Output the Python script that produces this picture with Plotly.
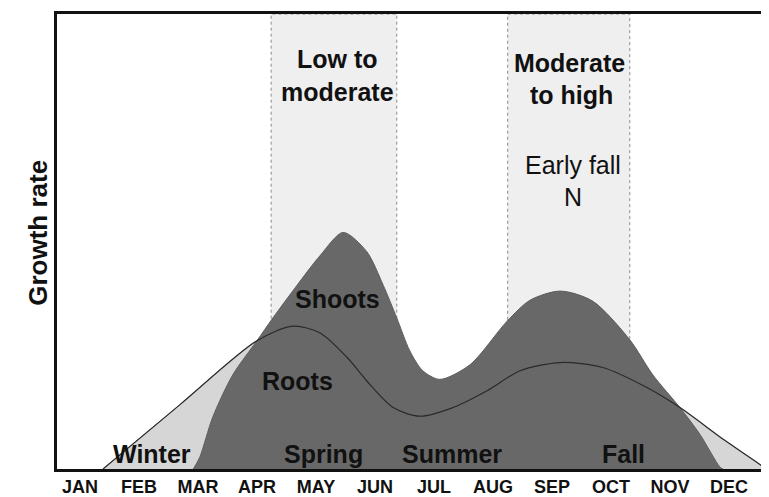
import plotly.graph_objects as go

months = ["JAN", "FEB", "MAR", "APR", "MAY", "JUN", "JUL", "AUG", "SEP", "OCT", "NOV", "DEC"]
month_idx = list(range(12))

# Shoots growth curve (x in month index, JAN=0; y relative growth 0-100)
shoots_x = [1.92, 2.03, 2.25, 2.59, 3.00, 3.27, 3.68, 4.07, 4.46, 4.86, 5.14, 5.37, 5.59, 5.81, 6.10,
            6.61, 7.24, 7.63, 8.14, 8.69, 9.32, 9.71, 10.17, 10.51, 10.85, 10.90]
shoots_y = [0.0, 2.6, 11.4, 20.7, 28.2, 33.2, 40.4, 46.9, 52.0, 47.8, 40.4, 33.2, 26.0, 21.6, 19.7,
            22.9, 32.5, 37.1, 39.1, 36.9, 28.4, 20.7, 13.5, 7.6, 0.4, 0.0]

# Roots growth curve
roots_x = [0.39, 1.69, 3.00, 3.61, 4.07, 4.53, 4.86, 5.31, 5.76, 6.32, 6.90, 7.46, 8.14, 8.86, 9.61,
           10.17, 10.93, 11.64]
roots_y = [0.0, 14.1, 28.2, 31.4, 29.9, 24.5, 19.4, 13.5, 11.6, 13.5, 17.2, 21.6, 23.4, 22.3, 17.9,
           13.5, 6.3, 0.0]

# Fertilization windows (month index ranges)
bands = [(3.24, 5.37), (7.25, 9.32)]

# Text labels
band_labels = [("Low to", 4.37, 90.2), ("moderate", 4.37, 82.8),
               ("Moderate", 8.29, 89.3), ("to high", 8.33, 82.3)]
plain_labels = [("Early fall", 8.36, 66.8), ("N", 8.36, 59.8)]
curve_labels = [("Shoots", 4.36, 37.4), ("Roots", 3.68, 19.4)]
season_labels = [("Winter", 1.22, 3.2), ("Spring", 4.12, 3.2), ("Summer", 6.31, 3.2), ("Fall", 9.22, 3.2)]

FONT = "Liberation Sans, Arial, sans-serif"

fig = go.Figure()

fig.add_trace(go.Scatter(x=roots_x, y=roots_y, mode="lines", line=dict(color="#a9a9a9", width=1, shape="spline", smoothing=0.8),
                         fill="tozeroy", fillcolor="#d6d6d6", hoverinfo="skip", showlegend=False))
fig.add_trace(go.Scatter(x=shoots_x, y=shoots_y, mode="lines", line=dict(color="#5e5e5e", width=1, shape="spline", smoothing=0.8),
                         fill="tozeroy", fillcolor="#686868", hoverinfo="skip", showlegend=False))
fig.add_trace(go.Scatter(x=roots_x, y=roots_y, mode="lines", line=dict(color="#2a2a2a", width=1.2, shape="spline", smoothing=0.8),
                         hoverinfo="skip", showlegend=False))

for x0, x1 in bands:
    fig.add_shape(type="rect", xref="x", yref="y", x0=x0, x1=x1, y0=0, y1=100, layer="below",
                  fillcolor="#efefef", line=dict(color="#8a8a8a", width=1, dash="dot"))

for t, x, y in band_labels + curve_labels + season_labels:
    fig.add_annotation(x=x, y=y, xref="x", yref="y", text=t, showarrow=False,
                       font=dict(family=FONT, size=25, color="#111111", weight="bold"))
for t, x, y in plain_labels:
    fig.add_annotation(x=x, y=y, xref="x", yref="y", text=t, showarrow=False,
                       font=dict(family=FONT, size=25, color="#111111"))

fig.add_annotation(x=-0.05, y=0.52, xref="paper", yref="paper", text="Growth rate", textangle=-90,
                   showarrow=False, font=dict(family=FONT, size=26, color="#111111", weight="bold"))

fig.update_xaxes(range=[-0.39, 11.68], tickvals=month_idx, ticktext=months, showgrid=False, zeroline=False,
                 showline=True, linecolor="#111111", linewidth=2.5, mirror=True, ticks="",
                 tickfont=dict(family=FONT, size=18, color="#111111", weight="bold"))
fig.update_yaxes(range=[0, 100], showticklabels=False, showgrid=False, zeroline=False,
                 showline=True, linecolor="#111111", linewidth=2.5, ticks="")

# page body has an 8px margin, so the figure is sized/offset to land in the 769x497 window
fig.update_layout(width=761, height=489, margin=dict(l=49, r=0, t=6, b=25),
                  plot_bgcolor="white", paper_bgcolor="white")

fig.write_html("out.html")
